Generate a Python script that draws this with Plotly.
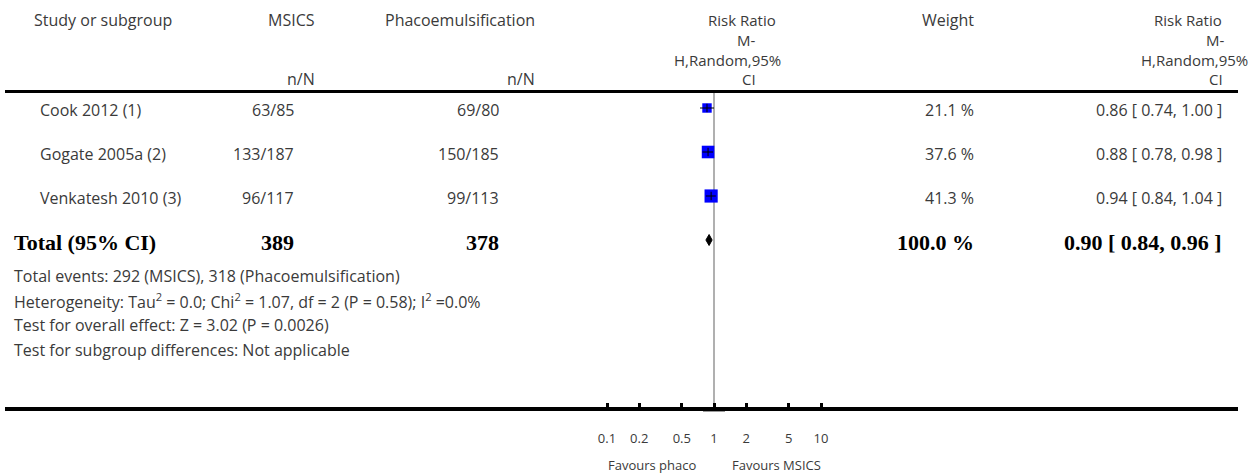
import numpy as np
import plotly.graph_objects as go

# ---------------- data ----------------
studies = ["Cook 2012 (1)", "Gogate 2005a (2)", "Venkatesh 2010 (3)"]
msics_nN = ["63/85", "133/187", "96/117"]
phaco_nN = ["69/80", "150/185", "99/113"]
rr = [0.86, 0.88, 0.94]
ci_lo = [0.74, 0.78, 0.84]
ci_hi = [1.00, 0.98, 1.04]
weights = [21.1, 37.6, 41.3]

total_label = "Total (95% CI)"
total_msics = "389"
total_phaco = "378"
total_weight = 100.0
total_rr = 0.90
total_lo = 0.84
total_hi = 0.96

footer_lines = [
    "Total events: 292 (MSICS), 318 (Phacoemulsification)",
    "Heterogeneity: Tau<sup>2</sup> = 0.0; Chi<sup>2</sup> = 1.07, df = 2 (P = 0.58); I<sup>2</sup> =0.0%",
    "Test for overall effect: Z = 3.02 (P = 0.0026)",
    "Test for subgroup differences: Not applicable",
]

tick_vals = [0.1, 0.2, 0.5, 1, 2, 5, 10]
tick_text = ["0.1", "0.2", "0.5", "1", "2", "5", "10"]
favours_left = "Favours phaco"
favours_right = "Favours MSICS"

# ---------------- layout constants ----------------
W, H = 1252, 475
X_ONE_PX, DECADE_PX = 714, 107            # pixel of RR=1 and pixels per decade
x_range = [(0 - X_ONE_PX) / DECADE_PX, (W - X_ONE_PX) / DECADE_PX]
ROW0, ROW_STEP = 108, 44
TEXT_DY = 2
REG = "'Open Sans', Lato, sans-serif"
SERIF = "'Liberation Serif', 'Times New Roman', serif"
TXT_COL = "#3a3a3a"
REG_SIZE = 16
HDR_SIZE = 15
BOLD_SIZE = 22

fig = go.Figure()

row_y = [ROW0 + ROW_STEP * i for i in range(len(studies))]
tot_y = ROW0 + ROW_STEP * len(studies)

# squares (size proportional to sqrt of weight)
fig.add_trace(go.Scatter(
    x=rr, y=row_y, mode="markers",
    marker=dict(symbol="square", size=[2.05 * np.sqrt(w) for w in weights],
                color="#0000ff", opacity=1, line=dict(width=0)),
    hoverinfo="skip", showlegend=False))

# CI lines
xs, ys = [], []
for lo, hi, y in zip(ci_lo, ci_hi, row_y):
    xs += [lo, hi, None]
    ys += [y, y, None]
fig.add_trace(go.Scatter(x=xs, y=ys, mode="lines",
                         line=dict(color="black", width=1),
                         hoverinfo="skip", showlegend=False))
# point estimate ticks
fig.add_trace(go.Scatter(
    x=rr, y=row_y, mode="markers",
    marker=dict(symbol="line-ns", size=6, line=dict(color="black", width=1)),
    hoverinfo="skip", showlegend=False))

# diamond for pooled estimate
fig.add_trace(go.Scatter(
    x=[total_lo, total_rr, total_hi, total_rr, total_lo],
    y=[tot_y, tot_y - 5.5, tot_y, tot_y + 5.5, tot_y],
    mode="lines", fill="toself", fillcolor="black",
    line=dict(color="black", width=1), hoverinfo="skip", showlegend=False))

# vertical line of no effect
fig.add_shape(type="line", xref="x", yref="y", x0=1, x1=1, y0=93, y1=407,
              line=dict(color="#b0b0b0", width=2), layer="below")
fig.add_shape(type="line", xref="paper", yref="y", x0=703 / W, x1=725 / W,
              y0=411.5, y1=411.5, line=dict(color="#9a9a9a", width=1))
# header rule and axis rule
fig.add_shape(type="line", xref="paper", yref="y", x0=5 / W, x1=1238 / W,
              y0=91.5, y1=91.5, line=dict(color="black", width=3))
fig.add_shape(type="line", xref="paper", yref="y", x0=5 / W, x1=1238 / W,
              y0=409, y1=409, line=dict(color="black", width=4))


def txt(s, xpx, ypx, anchor="left", size=REG_SIZE, family=REG, color=TXT_COL):
    fig.add_annotation(text=s, x=xpx / W, xref="paper", y=ypx, yref="y",
                       xanchor=anchor, yanchor="middle", showarrow=False,
                       align=anchor, borderpad=0,
                       font=dict(family=family, size=size, color=color))


# header
txt("Study or subgroup", 33, 20)
txt("MSICS", 316, 20, "right")
txt("n/N", 316, 79, "right")
txt("Phacoemulsification", 536, 20, "right")
txt("n/N", 536, 79, "right")
for s, cx, cy in [("Risk Ratio", 742, 20), ("M-", 746, 40),
                  ("H,Random,95%", 727, 59.5), ("CI", 749, 79)]:
    txt(s, cx, cy, "center", size=HDR_SIZE)
txt("Weight", 975, 20, "right")
for s, cx, cy in [("Risk Ratio", 1188, 20), ("M-", 1215, 40),
                  ("H,Random,95%", 1194, 59.5), ("CI", 1216, 79)]:
    txt(s, cx, cy, "center", size=HDR_SIZE)

# study rows
for name, a, b, w, r, lo, hi, y in zip(studies, msics_nN, phaco_nN, weights,
                                       rr, ci_lo, ci_hi, row_y):
    yy = y + TEXT_DY
    txt(name, 39, yy)
    txt(a, 295, yy, "right")
    txt(b, 500, yy, "right")
    txt(f"{w:.1f} %", 975, yy, "right")
    txt(f"{r:.2f} [ {lo:.2f}, {hi:.2f} ]", 1223, yy, "right")

# total row
yy = tot_y + TEXT_DY
bold = dict(size=BOLD_SIZE, family=SERIF, color="black")
txt(f"<b>{total_label}</b>", 13, yy, "left", **bold)
txt(f"<b>{total_msics}</b>", 295, yy, "right", **bold)
txt(f"<b>{total_phaco}</b>", 500, yy, "right", **bold)
txt(f"<b>{total_weight:.1f} %</b>", 975, yy, "right", **bold)
txt(f"<b>{total_rr:.2f} [ {total_lo:.2f}, {total_hi:.2f} ]</b>", 1223, yy, "right", **bold)

# footer lines
for i, s in enumerate(footer_lines):
    txt(s, 13, 276 + 24.7 * i)

# favours labels
txt(favours_left, 697, 465, "right", size=13)
txt(favours_right, 731, 465, "left", size=13)

fig.update_layout(
    width=W, height=H,
    margin=dict(l=0, r=0, t=0, b=0),
    paper_bgcolor="white", plot_bgcolor="white",
    showlegend=False,
    xaxis=dict(type="log", range=x_range, domain=[0, 1],
               showgrid=False, zeroline=False, showline=False,
               tickvals=tick_vals, ticktext=tick_text,
               ticks="inside", ticklen=6, tickwidth=3, tickcolor="black",
               anchor="free", position=(H - 409) / H, side="bottom",
               ticklabelstandoff=20,
               tickfont=dict(family=REG, size=13, color=TXT_COL),
               fixedrange=True),
    yaxis=dict(range=[H, 0], domain=[0, 1], visible=False, fixedrange=True),
)

fig.write_html("out.html")
